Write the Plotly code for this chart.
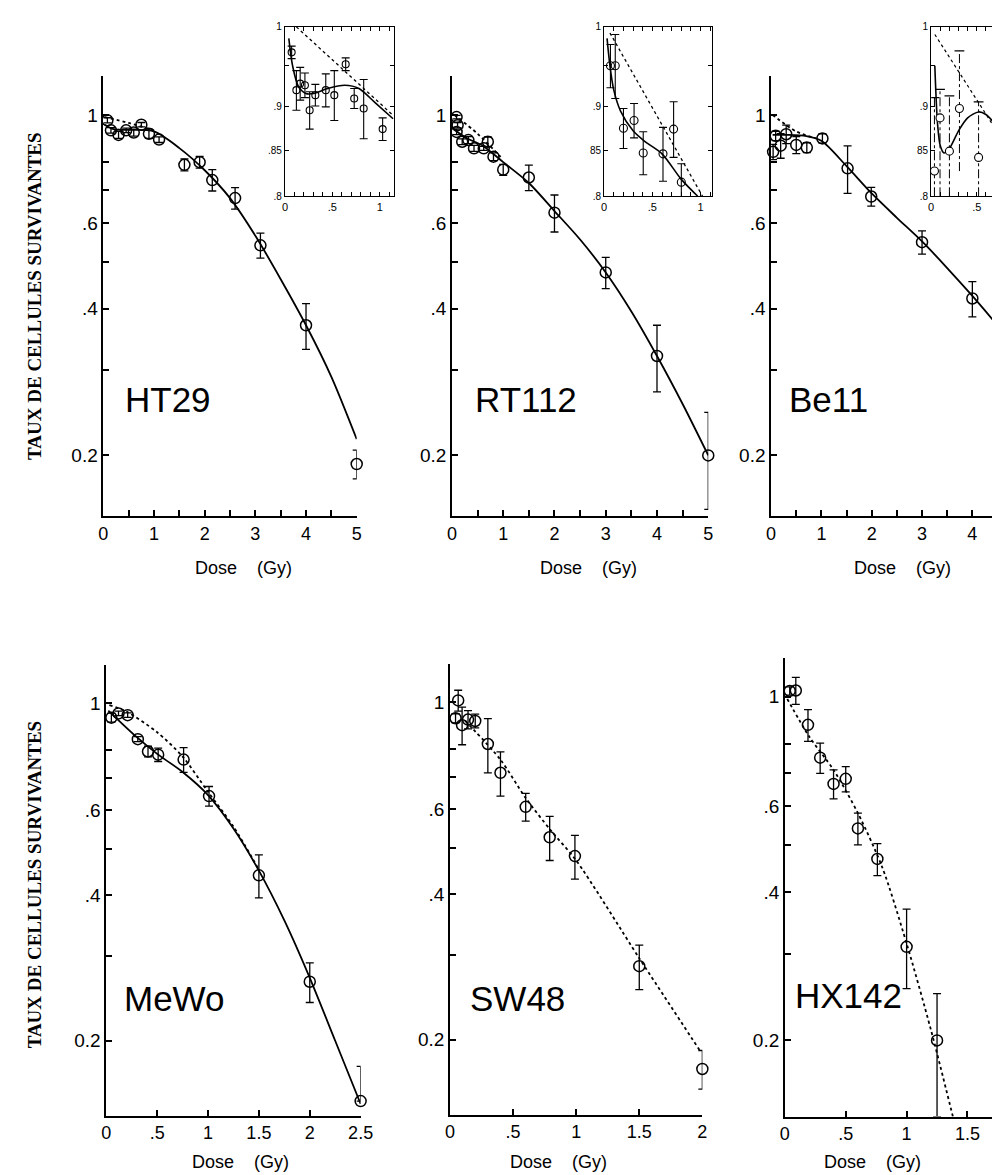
import math
import plotly.graph_objects as go

W, H = 1000, 1175

# ---------------- data ----------------
# HT29 main
ht29_dose = [0.08, 0.15, 0.3, 0.45, 0.6, 0.75, 0.9, 1.1, 1.6, 1.9, 2.15, 2.6, 3.1, 4.0, 5.0]
ht29_sf = [0.975, 0.93, 0.91, 0.93, 0.92, 0.955, 0.915, 0.89, 0.79, 0.80, 0.735, 0.675, 0.54, 0.37, 0.192]
ht29_err = [0.012, 0.012, 0.015, 0.01, 0.015, 0.01, 0.02, 0.012, 0.022, 0.022, 0.037, 0.034, 0.032, 0.04, 0.013]
ht29_fit_x = [0.03, 0.2, 0.5, 1.0, 1.5, 2.0, 2.5, 3.0, 3.5, 4.0, 4.5, 5.0]
ht29_fit_y = [0.955, 0.935, 0.932, 0.925, 0.855, 0.77, 0.675, 0.565, 0.46, 0.37, 0.29, 0.216]
ht29_lq_x = [0.03, 0.5, 1.0]
ht29_lq_y = [0.99, 0.963, 0.93]
# HT29 inset
ht29i_dose = [0.07, 0.12, 0.16, 0.21, 0.26, 0.32, 0.43, 0.52, 0.64, 0.73, 0.83, 1.03]
ht29i_sf = [0.967, 0.92, 0.928, 0.926, 0.896, 0.914, 0.92, 0.914, 0.952, 0.91, 0.898, 0.874]
ht29i_err = [0.008, 0.024, 0.02, 0.015, 0.022, 0.013, 0.02, 0.03, 0.008, 0.012, 0.035, 0.013]
ht29i_fit_x = [0.04, 0.08, 0.14, 0.22, 0.3, 0.45, 0.63, 0.78, 0.95, 1.14]
ht29i_fit_y = [0.985, 0.95, 0.925, 0.916, 0.916, 0.922, 0.926, 0.922, 0.905, 0.886]
ht29i_lq_x = [0.12, 1.14]
ht29i_lq_y = [1.0, 0.89]

# RT112 main
rt_dose = [0.09, 0.11, 0.09, 0.2, 0.32, 0.43, 0.62, 0.70, 0.81, 1.0, 1.5, 2.0, 3.0, 4.0, 5.0]
rt_sf = [0.99, 0.953, 0.923, 0.881, 0.888, 0.854, 0.854, 0.881, 0.821, 0.772, 0.744, 0.63, 0.475, 0.32, 0.20]
rt_err = [0.008, 0.012, 0.012, 0.012, 0.015, 0.012, 0.008, 0.02, 0.015, 0.02, 0.045, 0.055, 0.035, 0.05, 0.045]
rt_fit_x = [0.03, 0.3, 0.6, 1.0, 1.5, 2.0, 2.5, 3.0, 3.5, 4.0, 4.5, 5.0]
rt_fit_y = [0.935, 0.895, 0.865, 0.80, 0.725, 0.635, 0.555, 0.475, 0.395, 0.32, 0.255, 0.20]
rt_lq_x = [0.05, 0.5, 0.95]
rt_lq_y = [1.0, 0.915, 0.82]
# RT112 inset
rti_dose = [0.065, 0.115, 0.20, 0.31, 0.405, 0.61, 0.72, 0.80]
rti_sf = [0.95, 0.95, 0.875, 0.884, 0.847, 0.846, 0.874, 0.815]
rti_err = [0.027, 0.04, 0.023, 0.02, 0.024, 0.03, 0.032, 0.02]
rti_fit_x = [0.03, 0.06, 0.1, 0.17, 0.3, 0.42, 0.6, 0.8, 0.97]
rti_fit_y = [0.985, 0.95, 0.92, 0.895, 0.872, 0.86, 0.846, 0.818, 0.8]
rti_lq_x = [0.06, 1.02]
rti_lq_y = [0.992, 0.8]

# Be11 main
be_dose = [0.04, 0.09, 0.19, 0.30, 0.50, 0.71, 1.02, 1.52, 1.99, 3.0, 4.0]
be_sf = [0.84, 0.906, 0.865, 0.913, 0.868, 0.857, 0.895, 0.777, 0.68, 0.548, 0.42]
be_err = [0.03, 0.02, 0.05, 0.04, 0.035, 0.02, 0.02, 0.087, 0.03, 0.03, 0.035]
be_fit_x = [0.03, 0.3, 0.7, 1.0, 1.5, 2.0, 2.5, 3.0, 3.5, 4.0, 4.45]
be_fit_y = [0.91, 0.91, 0.905, 0.885, 0.785, 0.69, 0.615, 0.55, 0.485, 0.425, 0.375]
be_lq_x = [0.03, 0.5, 0.9]
be_lq_y = [1.0, 0.925, 0.895]
# Be11 inset
bei_dose = [0.036, 0.097, 0.2, 0.31, 0.52]
bei_sf = [0.827, 0.887, 0.849, 0.898, 0.842]
bei_hi = [0.911, 0.921, 0.913, 0.969, 0.906]
bei_lo = [0.8, 0.8, 0.8, 0.827, 0.8]
bei_fit_x = [0.04, 0.07, 0.1, 0.14, 0.2, 0.3, 0.4, 0.52, 0.6, 0.7]
bei_fit_y = [0.95, 0.88, 0.855, 0.847, 0.852, 0.872, 0.887, 0.894, 0.891, 0.88]
bei_lq_x = [0.04, 0.7]
bei_lq_y = [0.99, 0.875]

# MeWo
mw_dose = [0.05, 0.12, 0.21, 0.31, 0.41, 0.51, 0.76, 1.01, 1.5, 2.0, 2.5]
mw_sf = [0.933, 0.952, 0.944, 0.842, 0.794, 0.782, 0.764, 0.642, 0.44, 0.265, 0.15]
mw_err_hi = [0.02, 0.01, 0.01, 0.01, 0.02, 0.025, 0.045, 0.03, 0.045, 0.025, 0.027]
mw_err_lo = [0.02, 0.01, 0.01, 0.01, 0.02, 0.025, 0.045, 0.03, 0.045, 0.025, 0.0]
mw_fit_x = [0.02, 0.3, 0.5, 0.75, 1.0, 1.25, 1.5, 1.75, 2.0, 2.25, 2.5]
mw_fit_y = [0.965, 0.85, 0.785, 0.72, 0.645, 0.55, 0.45, 0.355, 0.27, 0.2, 0.148]
mw_lq_x = [0.03, 0.2, 0.5, 0.75, 1.0, 1.25, 1.5]
mw_lq_y = [0.99, 0.96, 0.87, 0.775, 0.655, 0.555, 0.452]

# SW48
sw_dose = [0.044, 0.065, 0.096, 0.143, 0.2, 0.30, 0.40, 0.60, 0.79, 0.99, 1.5, 2.0]
sw_sf = [0.926, 1.008, 0.896, 0.92, 0.914, 0.819, 0.714, 0.607, 0.525, 0.48, 0.284, 0.174]
sw_err = [0.02, 0.05, 0.08, 0.04, 0.03, 0.105, 0.075, 0.04, 0.055, 0.05, 0.03, 0.016]
sw_lq_x = [0.12, 0.4, 0.6, 0.8, 1.0, 1.5, 1.98]
sw_lq_y = [0.915, 0.76, 0.633, 0.542, 0.47, 0.295, 0.19]

# HX142
hx_dose = [0.04, 0.09, 0.19, 0.29, 0.40, 0.50, 0.60, 0.76, 1.0, 1.25]
hx_sf = [1.028, 1.03, 0.877, 0.752, 0.665, 0.681, 0.54, 0.468, 0.31, 0.20]
hx_err_hi = [0.02, 0.065, 0.065, 0.053, 0.045, 0.04, 0.04, 0.035, 0.06, 0.049]
hx_err_lo = [0.02, 0.065, 0.065, 0.053, 0.045, 0.04, 0.04, 0.035, 0.055, 0.06]
hx_lq_x = [0.02, 0.2, 0.4, 0.6, 0.8, 1.0, 1.2, 1.38]
hx_lq_y = [0.99, 0.83, 0.71, 0.58, 0.45, 0.315, 0.21, 0.14]

cell_lines = ["HT29", "RT112", "Be11", "MeWo", "SW48", "HX142"]
y_title = "TAUX DE CELLULES SURVIVANTES"
x_title = "Dose\u00a0\u00a0\u00a0\u00a0(Gy)"

main_yvals = [0.2, 0.3, 0.4, 0.5, 0.6, 0.7, 0.8, 1.0]
main_ytext = ["0.2", "", ".4", "", ".6", "", "", "1"]
inset_yvals = [0.8, 0.85, 0.9, 0.95, 1.0]
inset_ytext_a = [".8", ".85", ".9", "", "1"]
inset_ytext_b = [".8", "85", ".9", "", "1"]
inset_xvals = [0, 0.1, 0.2, 0.3, 0.4, 0.5, 0.6, 0.7, 0.8, 0.9, 1.0, 1.1]
inset_xtext = ["0", "", "", "", "", ".5", "", "", "", "", "1", ""]
top_xvals = [0, 0.5, 1, 1.5, 2, 2.5, 3, 3.5, 4, 4.5, 5]
top_xtext = ["0", "", "1", "", "2", "", "3", "", "4", "", "5"]
mw_xvals = [0, 0.5, 1, 1.5, 2, 2.5]
mw_xtext = ["0", ".5", "1", "1.5", "2", "2.5"]

# ---------------- layout geometry ----------------
FONT = "Liberation Sans, Arial, sans-serif"
panels = [
    # key, x px, y px (top, bottom), x range, y range, kind
    ("", (92, 350), (64, 508), (0, 5), (0.15, 1.2), "main"),
    ("2", (447, 708), (64, 508), (0, 5), (0.15, 1.2), "main"),
    ("3", (772, 1000), (64, 508), (0, 4.45), (0.15, 1.2), "main"),
    ("4", (277, 388), (14, 185), (0, 1.15), (0.8, 1.0), "inset"),
    ("5", (602, 712), (14, 185), (0, 1.12), (0.8, 1.0), "inset"),
    ("6", (935, 1000), (14, 185), (0, 0.70), (0.8, 1.0), "inset_open"),
    ("7", (95, 354), (658, 1113), (0, 2.5), (0.14, 1.2), "main"),
    ("8", (445, 702), (657, 1112), (0, 2.0), (0.14, 1.2), "main"),
    ("9", (786, 1000), (651, 1114), (0, 1.726), (0.14, 1.2), "main"),
]
xtick_sets = {
    "": (top_xvals, top_xtext), "2": (top_xvals, top_xtext), "3": (top_xvals[:9], top_xtext[:9]),
    "4": (inset_xvals, inset_xtext), "5": (inset_xvals, inset_xtext), "6": (inset_xvals[:8], inset_xtext[:8]),
    "7": (mw_xvals, mw_xtext), "8": (mw_xvals[:5], mw_xtext[:5]), "9": (mw_xvals[:4], mw_xtext[:4]),
}
ytick_sets = {
    "4": (inset_yvals, inset_ytext_a), "5": (inset_yvals, inset_ytext_b), "6": (inset_yvals, inset_ytext_b),
}

layout = dict(
    width=W, height=H, margin=dict(l=0, r=0, t=0, b=0),
    paper_bgcolor="white", plot_bgcolor="rgba(0,0,0,0)", showlegend=False,
    font=dict(family=FONT, color="black"),
)
for key, xpx, ypx, xr, yr, kind in panels:
    inset = kind.startswith("inset")
    xv, xt = xtick_sets[key]
    yv, yt = ytick_sets.get(key, (main_yvals, main_ytext))
    lw = 1.2 if inset else 1.6
    layout["xaxis" + key] = dict(
        domain=[xpx[0] / W, xpx[1] / W], range=list(xr), anchor="y" + key,
        showgrid=False, zeroline=False, showline=True, linecolor="black", linewidth=lw,
        ticks="inside", ticklen=4 if inset else 6, tickwidth=1 if inset else 1.5, tickcolor="black",
        tickvals=xv, ticktext=xt,
        tickfont=dict(size=11 if inset else 18, family=FONT, color="black"),
        mirror="allticks" if inset else False,
    )
    layout["yaxis" + key] = dict(
        domain=[1 - ypx[1] / H, 1 - ypx[0] / H], type="log",
        range=[math.log10(yr[0]), math.log10(yr[1])], anchor="x" + key,
        showgrid=False, zeroline=False, showline=True, linecolor="black", linewidth=lw,
        ticks="inside", ticklen=4 if inset else 6, tickwidth=1 if inset else 1.5, tickcolor="black",
        tickvals=yv, ticktext=yt,
        tickfont=dict(size=10 if inset else 19, family=FONT, color="black"),
        mirror="allticks" if kind == "inset" else False,
    )

fig = go.Figure()


def pts(x, y, key, plus, minus=None, size=11, lw=1.5, thick=1.3):
    fig.add_trace(go.Scatter(
        x=x, y=y, mode="markers", xaxis="x" + key, yaxis="y" + key, cliponaxis=False,
        marker=dict(symbol="circle-open", size=size, color="black", line=dict(width=lw, color="black")),
        error_y=dict(type="data", array=plus, arrayminus=minus if minus is not None else plus,
                     symmetric=False, color="black", thickness=thick, width=4),
    ))


def line(x, y, key, dash=None, width=1.8):
    fig.add_trace(go.Scatter(
        x=x, y=y, mode="lines", xaxis="x" + key, yaxis="y" + key,
        line=dict(color="black", width=width, dash=dash or "solid", shape="spline", smoothing=0.8),
    ))


# HT29
line(ht29_fit_x, ht29_fit_y, "")
line(ht29_lq_x, ht29_lq_y, "", dash="dot")
pts(ht29_dose, ht29_sf, "", ht29_err)
line(ht29i_fit_x, ht29i_fit_y, "4", width=1.6)
line(ht29i_lq_x, ht29i_lq_y, "4", dash="dot", width=1.3)
pts(ht29i_dose, ht29i_sf, "4", ht29i_err, size=7, lw=1.1, thick=1.1)
# RT112
line(rt_fit_x, rt_fit_y, "2")
line(rt_lq_x, rt_lq_y, "2", dash="dot")
pts(rt_dose, rt_sf, "2", rt_err)
line(rti_fit_x, rti_fit_y, "5", width=1.6)
line(rti_lq_x, rti_lq_y, "5", dash="dot", width=1.3)
pts(rti_dose, rti_sf, "5", rti_err, size=8, lw=1.1, thick=1.1)
# Be11
line(be_fit_x, be_fit_y, "3")
line(be_lq_x, be_lq_y, "3", dash="dot")
pts(be_dose, be_sf, "3", be_err)
line(bei_fit_x, bei_fit_y, "6", width=1.6)
line(bei_lq_x, bei_lq_y, "6", dash="dot", width=1.2)
seg_x, seg_y = [], []
for d, lo, hi in zip(bei_dose, bei_lo, bei_hi):
    seg_x += [d, d, None]
    seg_y += [lo, hi, None]
fig.add_trace(go.Scatter(x=seg_x, y=seg_y, mode="lines", xaxis="x6", yaxis="y6",
                         line=dict(color="black", width=1, dash="dashdot")))
fig.add_trace(go.Scatter(x=bei_dose, y=bei_hi, mode="markers", xaxis="x6", yaxis="y6",
                         marker=dict(symbol="line-ew", size=7, line=dict(width=1.2, color="black"))))
fig.add_trace(go.Scatter(x=bei_dose, y=bei_sf, mode="markers", xaxis="x6", yaxis="y6", cliponaxis=False,
                         marker=dict(symbol="circle", size=8, color="white", line=dict(width=1.1, color="black"))))
# MeWo
line(mw_fit_x, mw_fit_y, "7")
line(mw_lq_x, mw_lq_y, "7", dash="dot")
pts(mw_dose, mw_sf, "7", mw_err_hi, mw_err_lo)
# SW48
line(sw_lq_x, sw_lq_y, "8", dash="dot")
pts(sw_dose, sw_sf, "8", sw_err)
# HX142
line(hx_lq_x, hx_lq_y, "9", dash="dot")
pts(hx_dose, hx_sf, "9", hx_err_hi, hx_err_lo)

annotations = []


def txt(s, px, py, size, xanchor="left", angle=0, family=FONT, bold=False):
    annotations.append(dict(
        text="<b>%s</b>" % s if bold else s, x=px / W, y=1 - py / H, xref="paper", yref="paper",
        xanchor=xanchor, yanchor="middle", showarrow=False, textangle=angle,
        font=dict(size=size, family=family, color="black"),
    ))


label_pos = [(112, 390), (468, 390), (788, 390), (111, 995), (463, 995), (794, 992)]
for name, (px, py) in zip(cell_lines, label_pos):
    txt(name, px, py, 35)

for cx, py in [(235, 560), (586, 560), (906, 560), (232, 1160), (555, 1160), (875, 1160)]:
    txt(x_title, cx, py, 18, xanchor="center")

for cy in [286, 880]:
    txt(y_title, 22, cy, 19, xanchor="center", angle=-90,
        family="Liberation Serif, Times New Roman, serif", bold=True)

layout["annotations"] = annotations
fig.update_layout(**layout)
fig.write_html("out.html")
